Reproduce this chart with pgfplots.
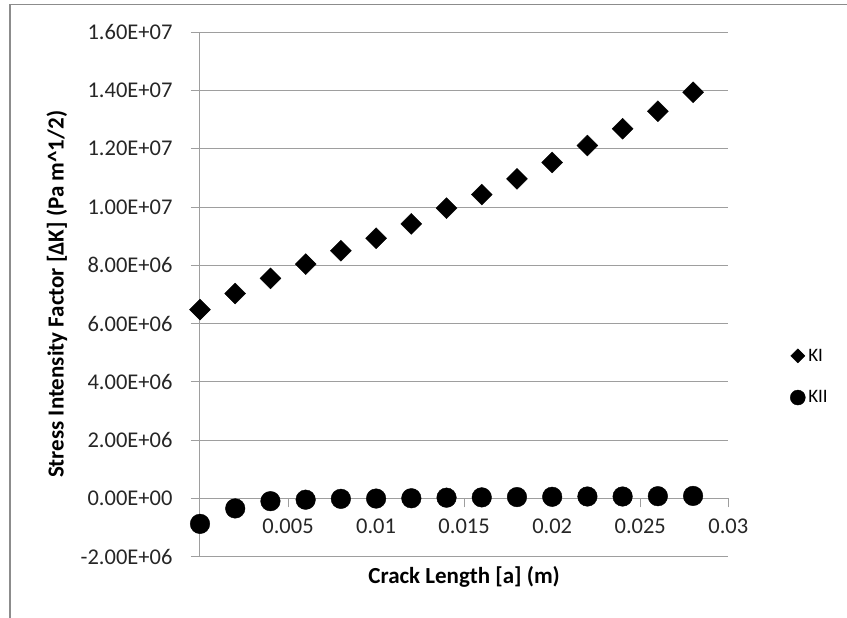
\documentclass[border=0pt]{standalone}
\usepackage{pgfplots}
\pgfplotsset{compat=1.18}
\usepackage{fontspec}
\setmainfont{Carlito}
\definecolor{axgray}{gray}{0.62}
\definecolor{framegray}{gray}{0.55}
\pgfplotstableread{
x y
0.000 6.48e6
0.002 7.03e6
0.004 7.55e6
0.006 8.04e6
0.008 8.50e6
0.010 8.93e6
0.012 9.42e6
0.014 9.96e6
0.016 1.043e7
0.018 1.097e7
0.020 1.153e7
0.022 1.211e7
0.024 1.269e7
0.026 1.329e7
0.028 1.394e7
}\KI
\pgfplotstableread{
x y
0.000 -8.8e5
0.002 -3.5e5
0.004 -1.0e5
0.006 -5e4
0.008 -2e4
0.010 -1e4
0.012 0
0.014 2e4
0.016 3e4
0.018 4e4
0.020 5e4
0.022 6e4
0.024 6e4
0.026 7e4
0.028 8e4
}\KII
\begin{document}
\begin{tikzpicture}[x=1pt,y=1pt]
\useasboundingbox (-200,-61.5) rectangle (647,556.5);
\draw[framegray, line width=1.2pt] (-190,-70) -- (-190,551.8) -- (660,551.8);
\begin{axis}[
  at={(0,0)}, anchor=south west,
  scale only axis, width=528.3pt, height=524.2pt,
  xmin=0, xmax=0.03, ymin=-2e6, ymax=1.6e7,
  axis x line=middle, axis y line=left,
  axis line style={draw=axgray, line width=1pt, -},
  clip=false,
  scaled ticks=false,
  ytick={-2e6,0,2e6,4e6,6e6,8e6,1e7,1.2e7,1.4e7,1.6e7},
  yticklabels={-2.00E+06,0.00E+00,2.00E+06,4.00E+06,6.00E+06,8.00E+06,1.00E+07,1.20E+07,1.40E+07,1.60E+07},
  xtick={0,0.005,0.01,0.015,0.02,0.025,0.03},
  xticklabels={0,0.005,0.01,0.015,0.02,0.025,0.03},
  hide obscured x ticks=false,
  ymajorgrids, grid style={draw=axgray, line width=1pt},
  tick align=outside,
  ytick style={draw=axgray, line width=1pt},
  xtick style={draw=axgray, line width=1pt},
  y tick label style={font=\fontsize{22.5}{26}\selectfont, text=black!85, anchor=east, xshift=-15pt},
  x tick label style={font=\fontsize{22.5}{26}\selectfont, text=black!85, anchor=north, yshift=-8pt},
  major tick length=9pt,
  xlabel={\textbf{Crack Length [a] (m)}},
  ylabel={\textbf{Stress Intensity Factor [ΔK] (Pa m\textasciicircum 1/2)}},
  xlabel style={font=\fontsize{23}{27}\selectfont, at={(axis description cs:0.5,-0.039)}, anchor=center},
  ylabel style={font=\fontsize{23}{27}\selectfont, at={(axis description cs:-0.2707,0.5)}, anchor=center, rotate=0},
  legend style={draw=none, fill=none, at={(axis description cs:1.117,0.40)}, anchor=north west,
    font=\fontsize{19}{23}\selectfont, row sep=24pt, inner sep=0pt, cells={anchor=west},
    /tikz/every odd column/.append style={column sep=1pt}},
  legend image code/.code={\draw plot coordinates {(0pt,0pt)};},
]
\addplot[only marks, mark=square*, mark size=7.4pt, mark options={rotate=45, fill=black, draw=black}, forget plot] table {\KI};
\addplot[only marks, mark=*, mark size=9.8pt, mark options={fill=black, draw=black}, forget plot] table {\KII};
\addlegendimage{only marks, mark=square*, mark size=5pt, mark options={rotate=45, fill=black, draw=black}}
\addlegendentry{KI}
\addlegendimage{only marks, mark=*, mark size=7.5pt, mark options={fill=black, draw=black}}
\addlegendentry{KII}
\end{axis}
\end{tikzpicture}
\end{document}
